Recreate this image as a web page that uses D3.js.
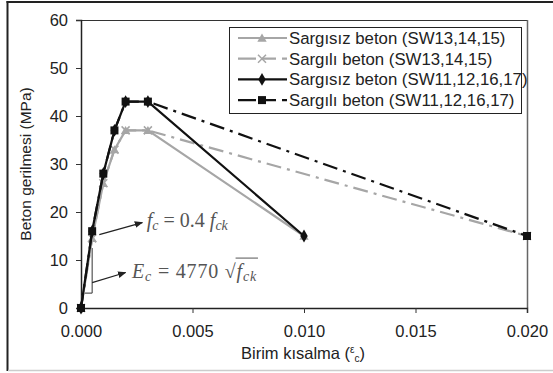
<!DOCTYPE html>
<html><head><meta charset="utf-8">
<script src="https://cdn.jsdelivr.net/npm/d3@7"></script>
<style>body{margin:0;background:#fff}svg{display:block;font-family:"Liberation Sans",Arial,sans-serif}</style>
</head><body><svg id="c" width="553" height="373"></svg>
<script>
const strain = [0, 0.0005, 0.001, 0.0015, 0.002, 0.003];
const s1Stress = [0, 14.5, 26, 33, 37, 37];       // Sargısız beton (SW13,14,15)
const s2Stress = [0, 14.5, 26, 33, 37, 37];       // Sargılı beton (SW13,14,15)
const s3Stress = [0, 16, 28, 37, 43, 43];         // Sargısız beton (SW11,12,16,17)
const s4Stress = [0, 16, 28, 37, 43, 43];         // Sargılı beton (SW11,12,16,17)
const endStrainUnconf = 0.010, endStrainConf = 0.020;
const endStress = [15, 15, 15, 15];
const seriesNames = ["Sargısız beton (SW13,14,15)", "Sargılı beton (SW13,14,15)", "Sargısız beton (SW11,12,16,17)", "Sargılı beton (SW11,12,16,17)"];
const xTicks = [0, 0.005, 0.010, 0.015, 0.020];
const yTicks = [0, 10, 20, 30, 40, 50, 60];

const series = [
  {name: seriesNames[0], pts: strain.map((e,i)=>[e,s1Stress[i]]).concat([[endStrainUnconf,endStress[0]]]), color:"#a6a6a6", dash:null, marker:"tri"},
  {name: seriesNames[1], pts: strain.map((e,i)=>[e,s2Stress[i]]).concat([[endStrainConf,endStress[1]]]), color:"#a6a6a6", dash:"15,6,3,6", marker:"x"},
  {name: seriesNames[2], pts: strain.map((e,i)=>[e,s3Stress[i]]).concat([[endStrainUnconf,endStress[2]]]), color:"#111", dash:null, marker:"dia"},
  {name: seriesNames[3], pts: strain.map((e,i)=>[e,s4Stress[i]]).concat([[endStrainConf,endStress[3]]]), color:"#111", dash:"15,6,3,6", marker:"sq"}
];

const svg = d3.select("#c");
// outer frame
svg.append("line").attr("x1",7.5).attr("y1",1).attr("x2",7.5).attr("y2",371).attr("stroke","#222").attr("stroke-width",2);
svg.append("line").attr("x1",6.5).attr("y1",2).attr("x2",553).attr("y2",2).attr("stroke","#222").attr("stroke-width",2);
svg.append("line").attr("x1",8).attr("y1",370.5).attr("x2",553).attr("y2",370.5).attr("stroke","#ccc").attr("stroke-width",1.5);

const L=81, R=527, T=20, B=308;
const x = d3.scaleLinear().domain([0,0.020]).range([L,R]);
const y = d3.scaleLinear().domain([0,60]).range([B,T]);

// plot border top/right
svg.append("line").attr("x1",L).attr("y1",T+0.5).attr("x2",R).attr("y2",T+0.5).attr("stroke","#333").attr("stroke-width",1.2);
svg.append("line").attr("x1",R+0.5).attr("y1",T).attr("x2",R+0.5).attr("y2",B).attr("stroke","#666").attr("stroke-width",1.5);

const gx = svg.append("g").attr("transform",`translate(0,${B})`)
  .call(d3.axisBottom(x).tickValues(xTicks).tickFormat(d3.format(".3f")).tickSize(5).tickPadding(12));
const gy = svg.append("g").attr("transform",`translate(${L},0)`)
  .call(d3.axisLeft(y).tickValues(yTicks).tickSize(5).tickPadding(8));
[gx,gy].forEach(g=>{
  g.select(".domain").attr("stroke","#222").attr("stroke-width",1.5);
  g.selectAll(".tick line").attr("stroke","#333");
  g.selectAll(".tick text").attr("font-size",16.5).attr("fill","#222").attr("font-family","Liberation Sans, Arial, sans-serif");
});

const xt = svg.append("text").attr("x",303).attr("y",359).attr("text-anchor","middle").attr("font-size",16.5).attr("fill","#222");
xt.append("tspan").text("Birim kısalma (");
xt.append("tspan").attr("font-size",10).attr("dy",-6).text("ε");
xt.append("tspan").attr("font-size",10).attr("dy",9).text("c");
xt.append("tspan").attr("dy",-3).text(")");
svg.append("text").attr("transform","translate(31,164) rotate(-90)").attr("text-anchor","middle").attr("font-size",15.5).attr("fill","#222")
  .text("Beton gerilmesi (MPa)");

// annotations (defined in data units)
const annoTri = [[0.00018,3.1],[0.0005,3.1],[0.0005,12.5]];
svg.append("path").attr("d",d3.line().x(d=>x(d[0])).y(d=>y(d[1]))(annoTri)).attr("fill","none").attr("stroke","#333").attr("stroke-width",1);

svg.append("defs").append("marker").attr("id","arr").attr("viewBox","0 0 10 10").attr("refX",9).attr("refY",5)
  .attr("markerWidth",7).attr("markerHeight",7).attr("orient","auto")
  .append("path").attr("d","M0,1 L10,5 L0,9 z").attr("fill","#222");
const arrows = [[[0.00082,15.3],[0.00275,17.8]], [[0.0005,5.3],[0.0020,7.4]]];
arrows.forEach(a=>{
  svg.append("line").attr("x1",x(a[0][0])).attr("y1",y(a[0][1])).attr("x2",x(a[1][0])).attr("y2",y(a[1][1]))
    .attr("stroke","#222").attr("stroke-width",1.2).attr("marker-end","url(#arr)");
});
const serif = "Liberation Serif, Times New Roman, serif";
const t1 = svg.append("text").attr("x",x(0.00295)).attr("y",y(16.9)).attr("font-family",serif).attr("font-size",20).attr("fill","#555");
t1.append("tspan").attr("font-style","italic").text("f");
t1.append("tspan").attr("font-style","italic").attr("font-size",14).attr("dy",3).text("c");
t1.append("tspan").attr("dy",-3).text(" = 0.4 ");
t1.append("tspan").attr("font-style","italic").text("f");
t1.append("tspan").attr("font-style","italic").attr("font-size",14).attr("dy",3).text("ck");

const t2 = svg.append("text").attr("x",x(0.00229)).attr("y",y(6.3)).attr("font-family",serif).attr("font-size",20).attr("fill","#555").attr("letter-spacing",0.8);
t2.append("tspan").attr("font-style","italic").text("E");
t2.append("tspan").attr("font-style","italic").attr("font-size",14).attr("dy",3).text("c");
t2.append("tspan").attr("dy",-3).text(" = 4770 ");
t2.append("tspan").text("√");
t2.append("tspan").attr("font-style","italic").text("f");
t2.append("tspan").attr("font-style","italic").attr("font-size",14).attr("dy",3).text("ck");
{
  const bb = t2.node().getBBox();
  const rootX = t2.node().getEndPositionOfChar(t2.text().indexOf("√")).x;
  svg.append("line").attr("x1",rootX-1).attr("x2",bb.x+bb.width+1).attr("y1",y(10.4)).attr("y2",y(10.4)).attr("stroke","#555").attr("stroke-width",1);
}

// markers
function drawMarker(g, type, color, cx, cy){
  if(type==="tri") g.append("path").attr("d",d3.symbol(d3.symbolTriangle,38)()).attr("transform",`translate(${cx},${cy+1})`).attr("fill",color);
  else if(type==="x") g.append("path").attr("d",`M${cx-4},${cy-4}L${cx+4},${cy+4}M${cx-4},${cy+4}L${cx+4},${cy-4}`).attr("stroke",color).attr("stroke-width",1.5);
  else if(type==="dia") g.append("path").attr("d",d3.symbol(d3.symbolDiamond,48)()).attr("transform",`translate(${cx},${cy})`).attr("fill",color);
  else if(type==="sq") g.append("rect").attr("x",cx-4).attr("y",cy-4).attr("width",8).attr("height",8).attr("fill",color);
}

const line = d3.line().x(d=>x(d[0])).y(d=>y(d[1]));
series.forEach(s=>{
  const g = svg.append("g");
  g.append("path").attr("d",line(s.pts)).attr("fill","none").attr("stroke",s.color).attr("stroke-width",2.2)
    .attr("stroke-dasharray",s.dash);
  s.pts.forEach(p=>drawMarker(g,s.marker,s.color,x(p[0]),y(p[1])));
});

// legend
const lg = svg.append("g");
lg.append("rect").attr("x",229.5).attr("y",27.5).attr("width",292).attr("height",86).attr("fill","#fff").attr("stroke","#222").attr("stroke-width",1);
series.forEach((s,i)=>{
  const yy = 38 + i*20.7;
  lg.append("line").attr("x1",238).attr("x2",287).attr("y1",yy).attr("y2",yy).attr("stroke",s.color).attr("stroke-width",2.2)
    .attr("stroke-dasharray", s.dash ? "18,6,14,6" : null);
  drawMarker(lg,s.marker,s.color,262,yy);
  lg.append("text").attr("x",289).attr("y",yy+6).attr("font-size",16.8).attr("fill","#222").text(s.name);
});
</script></body></html>
